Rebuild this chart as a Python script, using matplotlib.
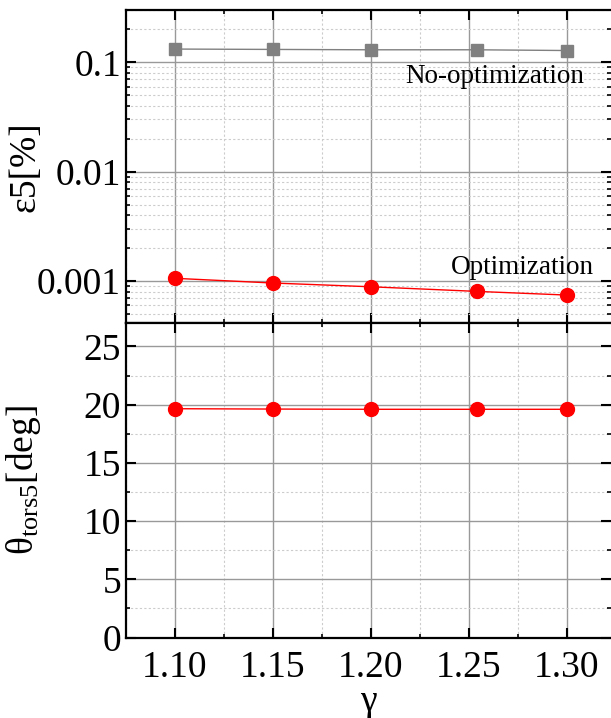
import matplotlib
matplotlib.use("Agg")
import matplotlib.pyplot as plt
from matplotlib.ticker import MultipleLocator, LogLocator, NullFormatter, FixedLocator

plt.rcParams['font.family'] = ['Liberation Serif', 'DejaVu Serif']
plt.rcParams['mathtext.fontset'] = 'custom'
plt.rcParams['mathtext.rm'] = 'Liberation Serif'
plt.rcParams['mathtext.it'] = 'Liberation Serif:italic'

# data
gamma = [1.10, 1.15, 1.20, 1.254, 1.30]
eps_noopt = [0.132, 0.131, 0.130, 0.130, 0.128]
eps_opt = [0.00106, 0.00096, 0.000887, 0.000805, 0.000745]
theta_opt = [19.65, 19.62, 19.60, 19.60, 19.60]
xticks = [1.10, 1.15, 1.20, 1.25, 1.30]
xtick_labels = ['1.10', '1.15', '1.20', '1.25', '1.30']

fig = plt.figure(figsize=(6.11, 7.18), dpi=100)
ax1 = fig.add_axes([0.206, 0.550, 0.794, 0.436])
ax2 = fig.add_axes([0.206, 0.112, 0.794, 0.438], sharex=ax1)

fs = 27
for ax in (ax1, ax2):
    ax.grid(True, which='major', color='#999999', lw=1.0, ls='-')
    ax.grid(True, which='minor', color='#cccccc', lw=0.8, ls=(0, (2, 2)))
    ax.set_axisbelow(True)
    ax.tick_params(which='major', direction='in', length=7, width=1.5,
                   top=True, right=True, labelsize=fs)
    ax.tick_params(which='minor', direction='in', length=3, width=1.2,
                   top=True, right=True)
    for s in ax.spines.values():
        s.set_linewidth(1.6)
    ax.spines['right'].set_visible(False)
    ax.xaxis.set_major_locator(FixedLocator(xticks))
    ax.xaxis.set_minor_locator(MultipleLocator(0.025))

ax1.plot(gamma, eps_noopt, '-s', color='#808080', lw=1.0, ms=9, zorder=3)
ax1.plot(gamma, eps_opt, '-o', color='#ff0000', lw=1.0, ms=10, zorder=3)
ax1.set_yscale('log')
ax1.set_ylim(0.000413, 0.30)
ax1.yaxis.set_minor_locator(LogLocator(base=10, subs=range(2, 10), numticks=20))
ax1.yaxis.set_minor_formatter(NullFormatter())
ax1.set_yticks([0.001, 0.01, 0.1])
ax1.set_yticklabels(['0.001', '0.01', '0.1'])
ax1.tick_params(labelbottom=False)
ax1.set_ylabel('ε5[%]', fontsize=fs)
ax1.yaxis.set_label_coords(-0.171, 0.5)
ax1.text(1.3087, 0.0734, 'No-optimization', fontsize=19.5, ha='right', va='center')
ax1.text(1.3138, 0.00134, 'Optimization', fontsize=19.5, ha='right', va='center')

ax2.plot(gamma, theta_opt, '-o', color='#ff0000', lw=1.0, ms=10, zorder=3)
ax2.set_ylim(0, 27)
ax2.yaxis.set_major_locator(MultipleLocator(5))
ax2.yaxis.set_minor_locator(MultipleLocator(2.5))
ax2.set_xlim(1.075, 1.3225)
ax2.set_xticklabels(xtick_labels)
ax2.tick_params(axis='x', pad=9)
ax2.set_ylabel('θ$_{\\mathrm{tors5}}$[deg]', fontsize=fs)
ax2.yaxis.set_label_coords(-0.171, 0.5)
ax2.set_xlabel('γ', fontsize=fs, labelpad=0)

fig.savefig('out.png', dpi=100)
